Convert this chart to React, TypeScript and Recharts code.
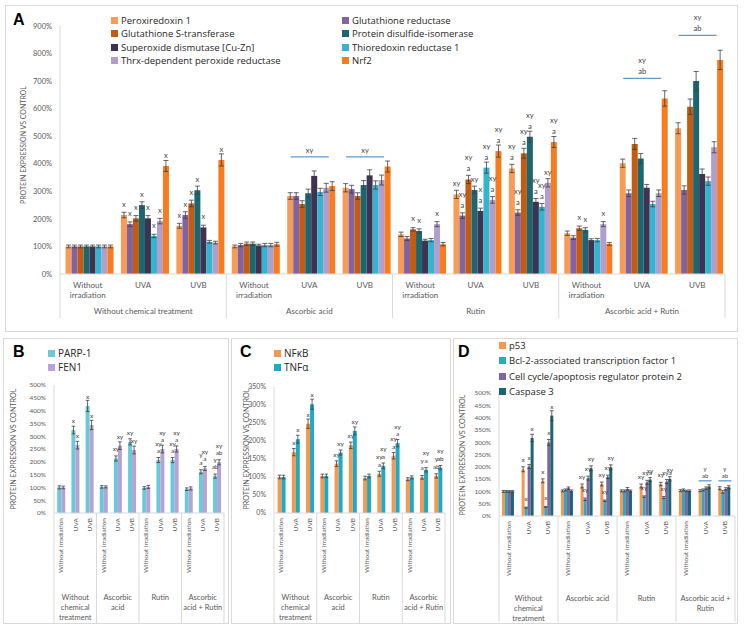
import React from 'react';
import { Bar, BarChart, ErrorBar, LabelList, Legend, XAxis, YAxis } from 'recharts';

const AXIS_FONT = 'Lato, "Open Sans", sans-serif';
const LEGEND_FONT = '"Open Sans", "Noto Sans", sans-serif';
const GRID = '#d9d9d9';
const TEXT = '#595959';
const NOTE = '#404040';
const ERR = '#404040';
const NOTE_LINE = '#5b9bd5';

// categories
const groups = ['Without chemical treatment', 'Ascorbic acid', 'Rutin', 'Ascorbic acid + Rutin'];
const irradiation = ['Without irradiation', 'UVA', 'UVB'];
const categories = groups.flatMap((g) => irradiation.map((r) => `${g}|${r}`));
const irradiationLinesA = [['Without', 'irradiation'], ['UVA'], ['UVB']];
const groupLinesBC = [['Without', 'chemical', 'treatment'], ['Ascorbic', 'acid'], ['Rutin'], ['Ascorbic', 'acid + Rutin']];
const groupLinesD = [['Without', 'chemical', 'treatment'], ['Ascorbic acid'], ['Rutin'], ['Ascorbic acid +', 'Rutin']];

// panel A
const namesA = [
  'Peroxiredoxin 1',
  'Glutathione reductase',
  'Glutathione S-transferase',
  'Protein disulfide-isomerase',
  'Superoxide dismutase [Cu-Zn]',
  'Thioredoxin reductase 1',
  'Thrx-dependent peroxide reductase',
  'Nrf2',
];
const colorsA = ['#f79b55', '#8064a2', '#c55a11', '#1b6771', '#3f3151', '#33b5cf', '#b09fcc', '#f87c1e'];

const prx1 = [100, 214, 175, 100, 283, 313, 144, 289, 383, 148, 402, 529];
const glutRed = [100, 181, 214, 105, 283, 308, 129, 212, 223, 132, 293, 305];
const gst = [100, 202, 256, 110, 254, 283, 162, 343, 438, 166, 472, 607];
const pdi = [100, 250, 304, 110, 293, 323, 156, 305, 498, 160, 419, 700];
const sod = [100, 202, 169, 103, 356, 358, 121, 229, 262, 123, 313, 363];
const trxRed = [100, 138, 117, 105, 298, 323, 123, 386, 244, 123, 254, 337];
const thrx = [100, 192, 114, 105, 313, 341, 181, 269, 331, 181, 293, 460];
const nrf2 = [100, 392, 414, 108, 319, 390, 108, 446, 479, 109, 637, 777];

const errPrx1 = [5, 10, 9, 5, 12, 15, 8, 15, 15, 8, 15, 20];
const errGlutRed = [5, 8, 12, 6, 12, 14, 7, 10, 10, 7, 12, 15];
const errGst = [5, 10, 12, 6, 12, 12, 6, 15, 18, 8, 20, 28];
const errPdi = [5, 12, 15, 6, 15, 16, 8, 14, 20, 8, 18, 35];
const errSod = [5, 10, 8, 5, 18, 20, 5, 10, 12, 5, 12, 18];
const errTrxRed = [5, 6, 5, 6, 13, 15, 6, 20, 12, 6, 10, 15];
const errThrx = [5, 10, 5, 6, 16, 18, 9, 12, 15, 9, 12, 20];
const errNrf2 = [5, 20, 22, 7, 16, 20, 6, 22, 20, 5, 28, 35];

const notePrx1 = ['', 'x', 'x', '', '', '', '', 'xy', 'xy\na', '', '', ''];
const noteGlutRed = ['', 'x', 'x', '', '', '', '', 'xy\na', 'xy\na', '', '', ''];
const noteGst = ['', 'x', 'x', '', '', '', 'x', 'xy\na', 'xy\na', 'x', '', ''];
const notePdi = ['', 'x', 'x', '', '', '', 'x', 'xy', 'xy\na', 'x', '', ''];
const noteSod = ['', 'x', 'x', '', '', '', '', 'x\na', 'xy\na', '', '', ''];
const noteTrxRed = ['', 'x', '', '', '', '', '', 'xy\na', 'xy\na', '', '', ''];
const noteThrx = ['', 'x', '', '', '', '', 'x', 'xy\na', 'xy', 'x', '', ''];
const noteNrf2 = ['', 'x', 'x', '', '', '', '', 'xy\na', 'xy\na', '', '', ''];

const groupLevelA = [null, null, null, null, 425, 425, null, null, null, null, 710, 866];
const groupNoteA = ['', '', '', '', 'xy', 'xy', '', '', '', '', 'xy\nab', 'xy\nab'];
const ticksA = [0, 100, 200, 300, 400, 500, 600, 700, 800, 900];

// panel B
const parp1 = [100, 324, 418, 102, 213, 278, 98, 207, 207, 93, 161, 144];
const fen1 = [100, 265, 344, 102, 263, 246, 102, 250, 250, 96, 174, 198];
const errParp1 = [6, 15, 22, 5, 10, 12, 5, 10, 10, 5, 8, 8];
const errFen1 = [5, 15, 18, 4, 15, 15, 6, 15, 12, 6, 8, 10];
const noteParp1 = ['', 'x', 'x', '', 'xy', 'xy', '', 'xy\na', 'xy\na', '', 'y\na', 'y\nab'];
const noteFen1 = ['', 'x', 'x', '', 'xy', 'xy', '', 'xy\na', 'xy\na', '', 'xy\na', 'xy\nab'];

// panel C
const nfkb = [100, 169, 248, 103, 137, 188, 97, 109, 159, 94, 99, 103];
const tnfa = [100, 205, 302, 103, 168, 228, 103, 131, 194, 99, 120, 126];
const errNfkb = [5, 10, 13, 5, 8, 9, 5, 7, 9, 4, 5, 6];
const errTnfa = [5, 11, 14, 5, 7, 11, 5, 8, 10, 4, 6, 6];
const noteNfkb = ['', 'x', 'x', '', 'xy', 'xy', '', 'xy\na', 'xy\na', '', 'y\na', 'y\nab'];
const noteTnfa = ['', 'x', 'x', '', 'xy', 'xy', '', 'xy\na', 'xy\na', '', 'xy\na', 'xy\nab'];

// panel D
const p53 = [100, 190, 143, 102, 122, 130, 102, 122, 130, 103, 103, 113];
const bclaf1 = [100, 34, 37, 106, 68, 62, 102, 79, 75, 106, 106, 98];
const ccar2 = [100, 201, 299, 113, 154, 159, 110, 137, 140, 102, 113, 110];
const casp3 = [100, 317, 408, 102, 194, 198, 102, 148, 151, 102, 120, 117];
const errP53 = [4, 10, 8, 4, 8, 8, 4, 8, 7, 4, 4, 6];
const errBclaf1 = [3, 2, 2, 4, 5, 3, 4, 3, 4, 4, 4, 5];
const errCcar2 = [3, 8, 12, 5, 8, 7, 6, 8, 8, 3, 5, 5];
const errCasp3 = [3, 15, 20, 4, 10, 10, 4, 8, 9, 4, 7, 6];
const noteP53 = ['', 'x', 'x', '', 'xy', 'xy', '', 'xy', 'xy', '', '', ''];
const noteBclaf1 = ['', 'x', 'x', '', 'xy', 'xy', '', 'xy', 'xy', '', '', ''];
const noteCcar2 = ['', 'x', 'x', '', 'xy', 'xy', '', 'xya', 'xya', '', '', ''];
const noteCasp3 = ['', 'x', 'x', '', 'xy', 'xy', '', 'xy', 'xy', '', '', ''];
const groupLevelD = [null, null, null, null, null, null, null, null, null, null, 143, 143];
const groupNoteD = ['', '', '', '', '', '', '', '', '', '', 'y\nab', 'y\nab'];

const ticks500 = [0, 50, 100, 150, 200, 250, 300, 350, 400, 450, 500];
const ticks350 = [0, 50, 100, 150, 200, 250, 300, 350];

type Series = { name: string; color: string; values: number[]; errors: number[]; notes: string[] };

const seriesA: Series[] = [
  [prx1, errPrx1, notePrx1],
  [glutRed, errGlutRed, noteGlutRed],
  [gst, errGst, noteGst],
  [pdi, errPdi, notePdi],
  [sod, errSod, noteSod],
  [trxRed, errTrxRed, noteTrxRed],
  [thrx, errThrx, noteThrx],
  [nrf2, errNrf2, noteNrf2],
].map(([values, errors, notes], k) => ({
  name: namesA[k],
  color: colorsA[k],
  values: values as number[],
  errors: errors as number[],
  notes: notes as string[],
}));

const seriesB: Series[] = [
  { name: 'PARP-1', color: '#68c9d8', values: parp1, errors: errParp1, notes: noteParp1 },
  { name: 'FEN1', color: '#b6a3d3', values: fen1, errors: errFen1, notes: noteFen1 },
];
const seriesC: Series[] = [
  { name: 'NFκB', color: '#f7984f', values: nfkb, errors: errNfkb, notes: noteNfkb },
  { name: 'TNFα', color: '#1ea9c4', values: tnfa, errors: errTnfa, notes: noteTnfa },
];
const seriesD: Series[] = [
  { name: 'p53', color: '#f7984f', values: p53, errors: errP53, notes: noteP53 },
  { name: 'Bcl-2-associated transcription factor 1', color: '#2ba9bd', values: bclaf1, errors: errBclaf1, notes: noteBclaf1 },
  { name: 'Cell cycle/apoptosis regulator protein 2', color: '#8064a2', values: ccar2, errors: errCcar2, notes: noteCcar2 },
  { name: 'Caspase 3', color: '#1b6771', values: casp3, errors: errCasp3, notes: noteCasp3 },
];

function buildRows(series: Series[], groupLevel?: (number | null)[], groupNote?: string[]) {
  return categories.map((cat, i) => {
    const row: Record<string, any> = { cat };
    series.forEach((s, k) => {
      row[`v${k}`] = s.values[i];
      row[`e${k}`] = s.errors[i];
      row[`n${k}`] = s.notes[i];
    });
    if (groupLevel && groupNote) {
      row.gl = groupLevel[i];
      row.gt = groupNote[i];
    }
    return row;
  });
}

const rowsA = buildRows(seriesA, groupLevelA, groupNoteA);
const rowsB = buildRows(seriesB);
const rowsC = buildRows(seriesC);
const rowsD = buildRows(seriesD, groupLevelD, groupNoteD);

const pct = (v: number) => `${v}%`;

const noteContent = (fs: number, lh: number, gap: number) => (props: any) => {
  const vb = props.viewBox ?? props;
  const { x, y, width } = vb;
  const v = props.value;
  if (!v || x == null || y == null) return null;
  const lines = String(v).split('\n');
  const cx = x + width / 2;
  return (
    <g>
      {lines.map((l, k) => (
        <text key={k} x={cx} y={y - gap - (lines.length - 1 - k) * lh} textAnchor="middle" fontSize={fs} fill={NOTE} fontFamily={AXIS_FONT}>
          {l}
        </text>
      ))}
    </g>
  );
};

const groupContent = (fs: number, lh: number, gap: number) => (props: any) => {
  const vb = props.viewBox ?? props;
  const { x, y, width } = vb;
  const v = props.value;
  if (!v || x == null || y == null) return null;
  const lines = String(v).split('\n');
  const cx = x + width / 2;
  return (
    <g>
      <line x1={x} x2={x + width} y1={y} y2={y} stroke={NOTE_LINE} strokeWidth={1.3} />
      {lines.map((l, k) => (
        <text key={k} x={cx} y={y - gap - (lines.length - 1 - k) * lh} textAnchor="middle" fontSize={fs} fill={NOTE} fontFamily={AXIS_FONT}>
          {l}
        </text>
      ))}
    </g>
  );
};

const yLabel = (x: number, y: number, fs: number) => () => (
  <text
    transform={`translate(${x},${y}) rotate(-90)`}
    textAnchor="middle"
    dominantBaseline="middle"
    fontSize={fs}
    fill={TEXT}
    fontFamily={AXIS_FONT}
  >
    PROTEIN EXPRESSION VS CONTROL
  </text>
);

// legend drawn from the series list so its order follows the series order
const legendContent = (items: Series[], cols: string, rowH: number, fs: number, sw: number) => () => (
  <div style={{ display: 'grid', gridTemplateColumns: cols, fontFamily: LEGEND_FONT, fontSize: fs, color: '#262626' }}>
    {items.map((it) => (
      <div key={it.name} style={{ display: 'flex', alignItems: 'center', height: rowH, whiteSpace: 'nowrap' }}>
        <span style={{ width: sw, height: sw, background: it.color, marginRight: 3, flex: 'none' }} />
        {it.name}
      </div>
    ))}
  </div>
);

// panel A geometry
const A_MARGIN = { top: 26, right: 19, bottom: 11, left: 10 };
const A_YW = 50;
const A_BAND = (744 - A_MARGIN.left - A_MARGIN.right - A_YW) / 12;

function TickA(props: any) {
  const { x, y, payload, index } = props;
  const [g, r] = String(payload.value).split('|');
  const lines = irradiationLinesA[irradiation.indexOf(r)] || [r];
  const half = A_BAND / 2;
  const font = { fontSize: 8, fill: TEXT, fontFamily: AXIS_FONT };
  return (
    <g>
      {lines.map((l, k) => (
        <text key={k} x={x} y={y + 14 + k * 10} textAnchor="middle" {...font}>
          {l}
        </text>
      ))}
      {index % 3 === 1 && (
        <text x={x} y={y + 40} textAnchor="middle" {...font}>
          {g}
        </text>
      )}
      {index % 3 === 0 && <line x1={x - half} x2={x - half} y1={y} y2={y + 44} stroke={GRID} />}
      {index === 11 && <line x1={x + half} x2={x + half} y1={y} y2={y + 44} stroke={GRID} />}
    </g>
  );
}

function PanelA() {
  return (
    <div style={{ position: 'absolute', left: 0, top: 0 }}>
      <BarChart width={744} height={335} data={rowsA} margin={A_MARGIN} barCategoryGap="10%" barGap={0}>
        <XAxis
          dataKey="cat"
          interval={0}
          tickLine={false}
          tickSize={0}
          tickMargin={0}
          height={50}
          axisLine={{ stroke: GRID }}
          tick={(p: any) => <TickA {...p} />}
        />
        <XAxis xAxisId="g" dataKey="cat" hide />
        <YAxis
          domain={[0, 900]}
          ticks={ticksA}
          tickFormatter={pct}
          width={A_YW}
          tickLine={false}
          axisLine={{ stroke: GRID }}
          tick={{ fontSize: 7.5, fill: TEXT, fontFamily: AXIS_FONT }}
          label={{ content: yLabel(24, 145, 7) }}
        />
        <Legend
          layout="horizontal"
          verticalAlign="middle"
          align="center"
          wrapperStyle={{ left: 111, top: 14, width: 480 }}
          content={legendContent(seriesA, '231px 240px', 13.3, 9.5, 7)}
        />
        {seriesA.map((s, k) => (
          <Bar key={s.name} dataKey={`v${k}`} name={s.name} fill={s.color} isAnimationActive={false}>
            <ErrorBar dataKey={`e${k}`} width={2.5} stroke={ERR} strokeWidth={0.8} />
            <LabelList dataKey={`n${k}`} content={noteContent(7.5, 11, 8)} />
          </Bar>
        ))}
        <Bar xAxisId="g" dataKey="gl" fill="none" barSize={38} legendType="none" isAnimationActive={false}>
          <LabelList dataKey="gt" content={groupContent(7.5, 11, 4)} />
        </Bar>
      </BarChart>
    </div>
  );
}

type SmallProps = {
  series: Series[];
  rows: Record<string, any>[];
  left: number;
  width: number;
  margin: { top: number; right: number; bottom: number; left: number };
  yWidth: number;
  yMax: number;
  ticks: number[];
  tickFs: number;
  xHeight: number;
  groupLines: string[][];
  groupDy: number;
  sepLen: number;
  catGap: string;
  legendLeft: number;
  legendTop: number;
  legendRowH: number;
  legendFs: number;
  yLabelPos: [number, number];
  groupBarSize?: number;
};

function SmallPanel(p: SmallProps) {
  const band = (p.width - p.margin.left - p.margin.right - p.yWidth) / 12;
  const tick = (props: any) => {
    const { x, y, payload, index } = props;
    const r = String(payload.value).split('|')[1];
    const half = band / 2;
    const gl = p.groupLines[Math.floor(index / 3)];
    return (
      <g>
        <text
          transform={`translate(${x + 2.3},${y + 5}) rotate(-90)`}
          textAnchor="end"
          fontSize={6.5}
          fill={TEXT}
          fontFamily={AXIS_FONT}
        >
          {r}
        </text>
        {index % 3 === 1 &&
          gl.map((l, k) => (
            <text key={k} x={x} y={y + p.groupDy + k * 10} textAnchor="middle" fontSize={7.5} fill={TEXT} fontFamily={AXIS_FONT}>
              {l}
            </text>
          ))}
        {index % 3 === 0 && <line x1={x - half} x2={x - half} y1={y} y2={y + p.sepLen} stroke={GRID} />}
        {index === 11 && <line x1={x + half} x2={x + half} y1={y} y2={y + p.sepLen} stroke={GRID} />}
      </g>
    );
  };
  return (
    <div style={{ position: 'absolute', left: p.left, top: 330 }}>
      <BarChart width={p.width} height={301} data={p.rows} margin={p.margin} barCategoryGap={p.catGap} barGap={0}>
        <XAxis
          dataKey="cat"
          interval={0}
          tickLine={false}
          tickSize={0}
          tickMargin={0}
          height={p.xHeight}
          axisLine={{ stroke: GRID }}
          tick={tick}
        />
        {p.groupBarSize && <XAxis xAxisId="g" dataKey="cat" hide />}
        <YAxis
          domain={[0, p.yMax]}
          ticks={p.ticks}
          tickFormatter={pct}
          width={p.yWidth}
          tickLine={false}
          axisLine={{ stroke: GRID }}
          tick={{ fontSize: p.tickFs, fill: TEXT, fontFamily: AXIS_FONT }}
          label={{ content: yLabel(p.yLabelPos[0], p.yLabelPos[1], 7.2) }}
        />
        <Legend
          layout="horizontal"
          verticalAlign="middle"
          align="center"
          wrapperStyle={{ left: p.legendLeft, top: p.legendTop, width: p.width - p.legendLeft }}
          content={legendContent(p.series, '1fr', p.legendRowH, p.legendFs, 7)}
        />
        {p.series.map((s, k) => (
          <Bar key={s.name} dataKey={`v${k}`} name={s.name} fill={s.color} isAnimationActive={false}>
            <ErrorBar dataKey={`e${k}`} width={1.8} stroke={ERR} strokeWidth={0.8} />
            <LabelList dataKey={`n${k}`} content={noteContent(6.5, 7.5, 7)} />
          </Bar>
        ))}
        {p.groupBarSize && (
          <Bar xAxisId="g" dataKey="gl" fill="none" barSize={p.groupBarSize} legendType="none" isAnimationActive={false}>
            <LabelList dataKey="gt" content={groupContent(6, 7.5, 2.5)} />
          </Bar>
        )}
      </BarChart>
    </div>
  );
}

function Box({ l, t, w, h }: { l: number; t: number; w: number; h: number }) {
  return <div style={{ position: 'absolute', left: l, top: t, width: w, height: h, border: `1px solid ${GRID}`, boxSizing: 'border-box' }} />;
}

function Letter({ x, y, c }: { x: number; y: number; c: string }) {
  return (
    <div style={{ position: 'absolute', left: x, top: y, fontFamily: '"Liberation Sans", Arial, sans-serif', fontWeight: 700, fontSize: 16, lineHeight: '16px', color: '#000' }}>
      {c}
    </div>
  );
}

export default function App() {
  return (
    <div style={{ position: 'absolute', left: 0, top: 0, width: 744, height: 631, background: '#fff', overflow: 'hidden' }}>
      <Box l={5} t={5} w={733} h={327} />
      <Box l={3} t={338} w={226} h={286} />
      <Box l={231} t={338} w={220} h={286} />
      <Box l={453} t={338} w={285} h={286} />
      <PanelA />
      <SmallPanel
        series={seriesB}
        rows={rowsB}
        left={0}
        width={232}
        margin={{ top: 55, right: 8, bottom: 18, left: 10 }}
        yWidth={44}
        yMax={500}
        ticks={ticks500}
        tickFs={6.5}
        xHeight={100}
        groupLines={groupLinesBC}
        groupDy={87}
        sepLen={110}
        catGap="23%"
        legendLeft={48}
        legendTop={16}
        legendRowH={14}
        legendFs={10}
        yLabelPos={[14, 119]}
      />
      <SmallPanel
        series={seriesC}
        rows={rowsC}
        left={232}
        width={220}
        margin={{ top: 57, right: 7, bottom: 18, left: 8 }}
        yWidth={34}
        yMax={350}
        ticks={ticks350}
        tickFs={7}
        xHeight={100}
        groupLines={groupLinesBC}
        groupDy={87}
        sepLen={110}
        catGap="25%"
        legendLeft={42}
        legendTop={16}
        legendRowH={14}
        legendFs={10}
        yLabelPos={[15, 119]}
      />
      <SmallPanel
        series={seriesD}
        rows={rowsD}
        left={452}
        width={292}
        margin={{ top: 63, right: 9, bottom: 10, left: 7 }}
        yWidth={40}
        yMax={500}
        ticks={ticks500}
        tickFs={6.5}
        xHeight={105}
        groupLines={groupLinesD}
        groupDy={85}
        sepLen={106}
        catGap="15%"
        legendLeft={47}
        legendTop={8}
        legendRowH={15.3}
        legendFs={9.5}
        yLabelPos={[11, 125]}
        groupBarSize={13}
      />
      <Letter x={13} y={12} c="A" />
      <Letter x={13} y={344} c="B" />
      <Letter x={240} y={344} c="C" />
      <Letter x={458} y={344} c="D" />
    </div>
  );
}
